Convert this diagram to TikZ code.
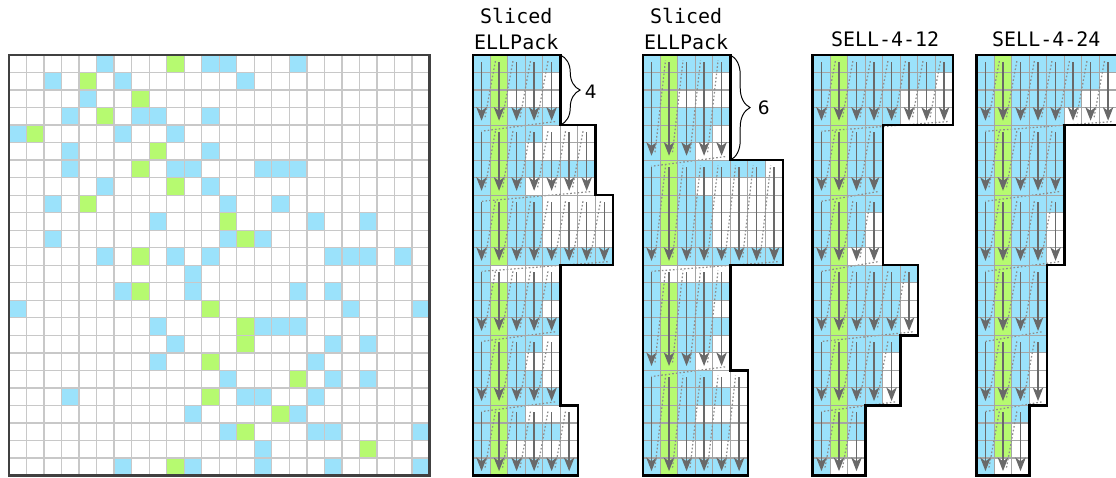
\documentclass[tikz,border=0pt]{standalone}
\usepackage{fontspec}
\setmainfont{DejaVu Sans}
\newfontfamily\monofont{DejaVu Sans Mono}
\usetikzlibrary{arrows.meta,decorations.pathreplacing}

\definecolor{nzblue}{RGB}{155,226,251}
\definecolor{nzgreen}{RGB}{182,250,112}
\definecolor{gridgray}{RGB}{200,200,200}
\definecolor{panelgrid}{RGB}{165,165,165}
\definecolor{arrowgray}{RGB}{105,105,105}

\tikzset{
  mtxgrid/.style={draw=gridgray, line width=1.05pt},
  mtxborder/.style={draw=black!75, line width=1.8pt},
  slicegrid/.style={draw=panelgrid, line width=0.9pt},
  sliceborder/.style={draw=black, line width=2pt, line join=miter},
  colarrow/.style={draw=arrowgray, line width=1.1pt, -{Stealth[length=11pt,width=8.5pt,inset=3pt]}},
  colhop/.style={draw=black!45, line width=1pt, dash pattern=on 1.3pt off 1.7pt},
  title/.style={font=\monofont\fontsize{16.2}{20.5}\selectfont, inner sep=0pt, align=center},
  bracelbl/.style={font=\fontsize{15}{18}\selectfont, inner sep=0pt, anchor=west},
  slicebrace/.style={decorate, decoration={brace, amplitude=16pt}, line width=0.8pt},
}

% #1 x shift, #2 slice height, #3 slice widths, #4 row lengths
\newcommand{\sellpanel}[4]{%
  \begin{scope}[shift={(#1,0)}]
    % stored entries
    \foreach \len [count=\r from 0] in {#4} {
      \fill[nzblue] (0,\r) rectangle (\len,\r+1);
      \ifnum\len>1 \fill[nzgreen] (1,\r) rectangle (2,\r+1); \fi
    }
    % slices
    \foreach \w [count=\s from 0] in {#3} {
      \pgfmathtruncatemacro\ytop{\s*#2}
      \pgfmathtruncatemacro\ybot{\ytop+#2}
      \pgfmathtruncatemacro\wlast{\w-1}
      \foreach \i in {0,...,\w} \draw[slicegrid] (\i,\ytop) -- (\i,\ybot);
      \foreach \j in {\ytop,...,\ybot} \draw[slicegrid] (0,\j) -- (\w,\j);
      \foreach \i in {0,...,\wlast} \draw[colarrow] (\i+.5,\ytop+.4) -- (\i+.5,\ybot-.25);
      \foreach \i in {1,...,\wlast} \draw[colhop] (\i-.3,\ybot-.45) -- (\i+.3,\ytop+.3);
      \ifnum\ybot<24 \draw[colhop] (\w-.3,\ybot-.2) -- (.5,\ybot+.35); \fi
    }
    \draw[sliceborder] (0,24) -- (0,0)
      \foreach \w [count=\s from 0] in {#3} { -- (\w,\s*#2) -- (\w,\s*#2+#2) } -- cycle;
  \end{scope}}

\begin{document}
\begin{tikzpicture}[x=0.5cm, y=-0.5cm]
  \useasboundingbox (-0.514,-3.139) rectangle (63.18,24.14);

  % sparse matrix
  \foreach \r/\cl in {0/{5,11,12,16}, 1/{2,6,13}, 2/{4}, 3/{3,7,8,11},
      4/{0,6,9}, 5/{3,11}, 6/{3,9,10,14,15,16}, 7/{5,11}, 8/{2,12,15},
      9/{8,17,20}, 10/{2,12,14}, 11/{5,9,11,18,19,20,22}, 12/{10},
      13/{6,10,16,18}, 14/{0,19,23}, 15/{8,14,15,16}, 16/{9,18,20},
      17/{8,17}, 18/{12,18,20}, 19/{3,13,14,17}, 20/{10,16},
      21/{12,17,18,23}, 22/{14}, 23/{6,10,14,18,23}}
    {\foreach \c in \cl {\fill[nzblue] (\c,\r) rectangle ++(1,1);}}
  \foreach \r/\c in {0/9, 1/4, 2/7, 3/5, 4/1, 5/8, 6/7, 7/9, 8/4, 9/12, 10/13,
      11/7, 13/7, 14/11, 15/13, 16/13, 17/11, 18/16, 19/11, 20/15, 21/13,
      22/20, 23/9}
    \fill[nzgreen] (\c,\r) rectangle ++(1,1);
  \foreach \i in {1,...,23} {
    \draw[mtxgrid] (\i,0) -- (\i,24);
    \draw[mtxgrid] (0,\i) -- (24,\i);
  }
  \draw[mtxborder] (0,0) rectangle (24,24);

  % storage formats
  \sellpanel{26.47}{4}{5,7,8,5,5,6}{5,4,2,5,4,3,7,3,4,4,4,8,1,5,4,5,4,3,4,5,3,5,2,6}
  \sellpanel{36.17}{6}{5,8,5,6}{5,4,2,5,4,3,7,3,4,4,4,8,1,5,4,5,4,3,4,5,3,5,2,6}
  \sellpanel{45.87}{4}{8,4,4,6,5,3}{8,7,5,5,4,4,4,4,4,3,3,2,6,5,5,5,5,4,4,4,3,3,2,1}
  \sellpanel{55.23}{4}{8,5,5,4,4,3}{8,7,6,5,5,5,5,5,5,4,4,4,4,4,4,4,4,3,3,3,3,2,2,1}

  \node[title, anchor=south] (ttlA) at (28.95,-0.31) {Sliced\\ELLPack};
  \node[title, anchor=south] (ttlB) at (38.65,-0.31) {Sliced\\ELLPack};
  \node[title, anchor=base] (ttlC) at (50.0,-0.47) {SELL-4-12};
  \node[title, anchor=base] (ttlD) at (59.2,-0.47) {SELL-4-24};

  % slice heights
  \coordinate (brA1) at (31.47,0);
  \coordinate (brA2) at (31.47,4);
  \draw[slicebrace] (brA1) -- (brA2);
  \node[bracelbl] (lblA) at (32.85,2.11) {4};
  \coordinate (brB1) at (41.17,0);
  \coordinate (brB2) at (41.17,6);
  \draw[slicebrace] (brB1) -- (brB2);
  \node[bracelbl] (lblB) at (42.72,3.02) {6};
\end{tikzpicture}
\end{document}
